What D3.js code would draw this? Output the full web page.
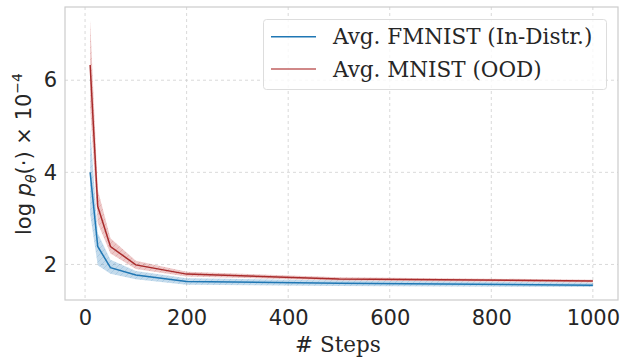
<!DOCTYPE html>
<html>
<head>
<meta charset="utf-8">
<script src="https://cdn.jsdelivr.net/npm/d3@7"></script>
<style>
  body { margin: 0; background: #fff; }
  svg { display: block; }
</style>
</head>
<body>
<div id="chart"></div>
<script>
// steps on the x axis
var steps = [10, 25, 50, 100, 200, 500, 1000];

// FMNIST (in-distribution) mean and band
var fmnistMean  = [4.00, 2.39, 1.93, 1.77, 1.63, 1.59, 1.55];
var fmnistUpper = [4.97, 2.68, 2.10, 1.86, 1.70, 1.65, 1.60];
var fmnistLower = [3.10, 1.98, 1.80, 1.68, 1.56, 1.53, 1.51];

// MNIST (OOD) mean and band
var mnistMean  = [6.33, 3.26, 2.39, 1.99, 1.79, 1.685, 1.64];
var mnistUpper = [7.30, 3.62, 2.57, 2.08, 1.84, 1.72, 1.67];
var mnistLower = [5.40, 2.90, 2.24, 1.90, 1.74, 1.65, 1.61];

var xTicks = [0, 200, 400, 600, 800, 1000];
var yTicks = [2, 4, 6];
var legendLabels = ["Avg. FMNIST (In-Distr.)", "Avg. MNIST (OOD)"];

var WIDTH = 622, HEIGHT = 361;
var margin = {top: 7, right: 4, bottom: 61, left: 65};

var svg = d3.select("#chart").append("svg")
    .attr("width", WIDTH)
    .attr("height", HEIGHT);

var w = WIDTH - margin.left - margin.right;
var h = HEIGHT - margin.top - margin.bottom;

var g = svg.append("g")
    .attr("transform", "translate(" + margin.left + "," + margin.top + ")");

var xScale = d3.scaleLinear().domain([-39.5, 1049.5]).range([0, w]);
var yScale = d3.scaleLinear().domain([1.228, 7.59]).range([h, 0]);

// hatch patterns for the bands
var defs = svg.append("defs");
function hatch(id, color) {
  var p = defs.append("pattern")
    .attr("id", id)
    .attr("patternUnits", "userSpaceOnUse")
    .attr("width", 6).attr("height", 6);
  p.append("path")
    .attr("d", "M-1,1 l2,-2 M0,6 l6,-6 M5,7 l2,-2")
    .attr("stroke", color)
    .attr("stroke-width", 0.6)
    .attr("stroke-opacity", 0.25);
}
hatch("hatchBlue", "#1f77b4");
hatch("hatchRed", "#b22222");

// grid
g.append("g")
  .selectAll("line")
  .data(xTicks)
  .join("line")
    .attr("x1", d => xScale(d)).attr("x2", d => xScale(d))
    .attr("y1", 0).attr("y2", h)
    .attr("stroke", "#cfcfcf")
    .attr("stroke-width", 0.8)
    .attr("stroke-dasharray", "3,3");

g.append("g")
  .selectAll("line")
  .data(yTicks)
  .join("line")
    .attr("x1", 0).attr("x2", w)
    .attr("y1", d => yScale(d)).attr("y2", d => yScale(d))
    .attr("stroke", "#cfcfcf")
    .attr("stroke-width", 0.8)
    .attr("stroke-dasharray", "3,3");

var series = [
  {mean: fmnistMean, upper: fmnistUpper, lower: fmnistLower, color: "#1f77b4", fill: "#3a88c0", hatch: "hatchBlue", legend: "#1f77b4"},
  {mean: mnistMean, upper: mnistUpper, lower: mnistLower, color: "#a82a2a", fill: "#c24848", hatch: "hatchRed", legend: "#c06060"}
];

var area = d3.area()
  .x(d => xScale(d.x))
  .y0(d => yScale(d.lo))
  .y1(d => yScale(d.hi));

var line = d3.line()
  .x(d => xScale(d.x))
  .y(d => yScale(d.y));

series.forEach(function(s) {
  var pts = steps.map((x, i) => ({x: x, y: s.mean[i], lo: s.lower[i], hi: s.upper[i]}));
  g.append("path")
    .attr("d", area(pts))
    .attr("fill", s.fill)
    .attr("fill-opacity", 0.3);
  g.append("path")
    .attr("d", area(pts))
    .attr("fill", "url(#" + s.hatch + ")");
});

series.forEach(function(s) {
  var pts = steps.map((x, i) => ({x: x, y: s.mean[i]}));
  g.append("path")
    .attr("d", line(pts))
    .attr("fill", "none")
    .attr("stroke", s.color)
    .attr("stroke-width", 1.5);
});

// spines
g.append("rect")
  .attr("x", 0).attr("y", 0)
  .attr("width", w).attr("height", h)
  .attr("fill", "none")
  .attr("stroke", "#cccccc")
  .attr("stroke-width", 1.2);

// axes
var xAxis = g.append("g")
  .attr("transform", "translate(0," + h + ")")
  .call(d3.axisBottom(xScale).tickValues(xTicks).tickFormat(d3.format("d")).tickSize(0).tickPadding(10))
  .call(a => a.select(".domain").remove());

var yAxis = g.append("g")
  .call(d3.axisLeft(yScale).tickValues(yTicks).tickFormat(d3.format("d")).tickSize(0).tickPadding(8))
  .call(a => a.select(".domain").remove());

[xAxis, yAxis].forEach(function(a) {
  a.selectAll("text")
    .style("font-family", "DejaVu Sans")
    .style("font-size", "21px")
    .attr("fill", "#262626");
});

// axis labels
svg.append("text")
  .attr("x", margin.left + xScale(500) - 1)
  .attr("y", 352)
  .attr("text-anchor", "middle")
  .style("font-family", "'DejaVu Serif', serif")
  .style("font-size", "21.5px")
  .attr("fill", "#262626")
  .text("# Steps");

var yLab = svg.append("text")
  .attr("transform", "translate(31," + 154 + ") rotate(-90)")
  .attr("text-anchor", "middle")
  .style("font-family", "DejaVu Sans")
  .style("font-size", "21px")
  .attr("fill", "#262626");
yLab.append("tspan").text("log ");
yLab.append("tspan").style("font-style", "italic").text("p");
yLab.append("tspan").attr("dy", 5).style("font-size", "14px").style("font-style", "italic").text("θ");
yLab.append("tspan").attr("dy", -5).text("(·) × 10");
yLab.append("tspan").attr("dy", -9).style("font-size", "14px").text("−4");

// legend
var legend = svg.append("g");
legend.append("rect")
  .attr("x", 263.5).attr("y", 19.5)
  .attr("width", 343).attr("height", 70)
  .attr("rx", 3)
  .attr("fill", "#fff")
  .attr("fill-opacity", 0.8)
  .attr("stroke", "#dddddd");

legendLabels.forEach(function(lbl, i) {
  var yy = 36.7 + i * 32.3;
  legend.append("line")
    .attr("x1", 271).attr("x2", 316)
    .attr("y1", yy).attr("y2", yy)
    .attr("stroke", series[i].legend)
    .attr("stroke-width", 1.5);
  legend.append("text")
    .attr("x", 333)
    .attr("y", yy)
    .attr("dy", "0.35em")
    .style("font-family", "'DejaVu Serif', serif")
    .style("font-size", "21.5px")
    .attr("fill", "#262626")
    .text(lbl);
});
</script>
</body>
</html>
